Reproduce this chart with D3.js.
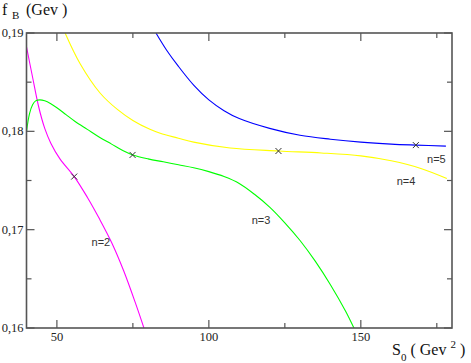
<!DOCTYPE html>
<html>
<head>
<meta charset="utf-8">
<script src="https://cdn.jsdelivr.net/npm/d3@7"></script>
<style>
  body { margin: 0; background: #fff; }
  svg { display: block; }
</style>
</head>
<body>
<div id="chart"></div>
<script>
// curves f_B(S0) for n = 2..5 as [S0, fB]
const n2 = [[40, 0.1886], [42, 0.1855], [44, 0.1825], [46, 0.1803], [48, 0.1788], [51, 0.1772],
            [55.7, 0.1754], [60, 0.1733], [64, 0.1711], [68, 0.1687], [72, 0.1658], [76, 0.1624],
            [79.5, 0.1592]];
const n3 = [[40, 0.1800], [41, 0.1818], [42, 0.1827], [43, 0.1831], [44.4, 0.1832], [46, 0.1831],
            [48, 0.1828], [50, 0.1824], [53, 0.1817], [56, 0.1810], [60, 0.1802], [64, 0.1794],
            [68, 0.1787], [72, 0.1780], [75, 0.1776], [80, 0.1772], [85, 0.1769], [90, 0.1766],
            [95, 0.1763], [100, 0.1759], [105, 0.1754], [110, 0.1747], [115, 0.1736], [120, 0.1723],
            [125, 0.1707], [130, 0.1689], [135, 0.1668], [140, 0.1644], [145, 0.1617], [148.5, 0.1595]];
const n4 = [[52.7, 0.1900], [57.6, 0.1869], [64.2, 0.1839], [70, 0.1822], [75, 0.1811],
            [80.6, 0.1802], [84, 0.1798], [90, 0.1793], [95, 0.1789], [107, 0.1783], [123, 0.1780],
            [137, 0.1778], [150, 0.1775], [160, 0.1770], [170, 0.1762], [178.3, 0.1752]];
const n5 = [[82.6, 0.1900], [86, 0.1883], [90, 0.1866], [95, 0.1847], [100, 0.1832],
            [105, 0.1821], [110, 0.1813], [120, 0.1803], [130, 0.1796], [140, 0.1792],
            [150, 0.1789], [160, 0.1787], [168.1, 0.1786], [178, 0.1785]];

// crosses marked on each curve
const marks = [[55.7, 0.1754], [74.9, 0.1776], [122.9, 0.1780], [168.1, 0.1786]];

// curve labels
const labels = [
    { text: "n=2", s: 61.4, f: 0.1683 },
    { text: "n=3", s: 114.1, f: 0.1706 },
    { text: "n=4", s: 161.8, f: 0.1745 },
    { text: "n=5", s: 171.8, f: 0.1768 }
];

const xMajor = [50, 100, 150];
const xMinor = [75, 125, 175];
const yMajor = [0.16, 0.17, 0.18, 0.19];
const yMinor = [0.165, 0.175, 0.185];

const width = 471, height = 363;
const margin = { top: 33, right: 19, bottom: 35, left: 26.5 };

const svg = d3.select("#chart").append("svg")
    .attr("width", width)
    .attr("height", height);

const x = d3.scaleLinear().domain([40, 180]).range([margin.left, width - margin.right]);
const y = d3.scaleLinear().domain([0.16, 0.19]).range([height - margin.bottom, margin.top]);

svg.append("clipPath").attr("id", "plot")
    .append("rect")
    .attr("x", x(40)).attr("y", y(0.19))
    .attr("width", x(180) - x(40)).attr("height", y(0.16) - y(0.19));

const line = d3.line()
    .x(d => x(d[0]))
    .y(d => y(d[1]))
    .curve(d3.curveCatmullRom.alpha(0.5));

const curves = svg.append("g").attr("clip-path", "url(#plot)");
[[n2, "#ff00ff"], [n3, "#00ff00"], [n4, "#ffff00"], [n5, "#0000ff"]].forEach(([data, color]) => {
    curves.append("path")
        .datum(data)
        .attr("d", line)
        .attr("fill", "none")
        .attr("stroke", color)
        .attr("stroke-width", 1.1);
});

// crosses
svg.append("g").selectAll("path")
    .data(marks)
    .join("path")
    .attr("d", d => {
        const cx = x(d[0]), cy = y(d[1]), r = 3;
        return `M${cx - r},${cy - r}L${cx + r},${cy + r}M${cx + r},${cy - r}L${cx - r},${cy + r}`;
    })
    .attr("stroke", "#333")
    .attr("stroke-width", 1);

// frame and ticks on all four sides, pointing inward
const axisColor = "#555";
const frame = svg.append("g");
frame.append("rect")
    .attr("x", x(40)).attr("y", y(0.19))
    .attr("width", x(180) - x(40)).attr("height", y(0.16) - y(0.19))
    .attr("fill", "none")
    .attr("stroke", axisColor)
    .attr("stroke-width", 1.6);

const xTicks = xMajor.map(v => [v, 8]).concat(xMinor.map(v => [v, 5]));
xTicks.forEach(([v, len]) => {
    frame.append("line")
        .attr("x1", x(v)).attr("x2", x(v))
        .attr("y1", y(0.16)).attr("y2", y(0.16) - len)
        .attr("stroke", axisColor).attr("stroke-width", 1.2);
    frame.append("line")
        .attr("x1", x(v)).attr("x2", x(v))
        .attr("y1", y(0.19)).attr("y2", y(0.19) + len)
        .attr("stroke", axisColor).attr("stroke-width", 1.2);
});
const yTicks = yMajor.map(v => [v, 8]).concat(yMinor.map(v => [v, 5]));
yTicks.forEach(([v, len]) => {
    frame.append("line")
        .attr("x1", x(40)).attr("x2", x(40) + len)
        .attr("y1", y(v)).attr("y2", y(v))
        .attr("stroke", axisColor).attr("stroke-width", 1.2);
    frame.append("line")
        .attr("x1", x(180)).attr("x2", x(180) - len)
        .attr("y1", y(v)).attr("y2", y(v))
        .attr("stroke", axisColor).attr("stroke-width", 1.2);
});

const serif = "'Liberation Serif', 'Times New Roman', serif";

// tick labels
svg.append("g").selectAll("text")
    .data(xMajor)
    .join("text")
    .attr("x", d => x(d))
    .attr("y", y(0.16) + 13)
    .attr("text-anchor", "middle")
    .attr("font-family", serif)
    .attr("font-size", 12.5)
    .attr("fill", "#222")
    .text(d => d);

svg.append("g").selectAll("text")
    .data(yMajor)
    .join("text")
    .attr("x", x(40) - 3)
    .attr("y", d => y(d) + 4)
    .attr("text-anchor", "end")
    .attr("font-family", serif)
    .attr("font-size", 12.5)
    .attr("fill", "#222")
    .text(d => d3.format(".2f")(d).replace(".", ","));

// curve labels
svg.append("g").selectAll("text")
    .data(labels)
    .join("text")
    .attr("x", d => x(d.s))
    .attr("y", d => y(d.f))
    .attr("font-family", "'Liberation Sans', Arial, sans-serif")
    .attr("font-size", 11)
    .attr("fill", "#333")
    .text(d => d.text);

// axis titles
const yTitle = svg.append("text")
    .attr("x", 2).attr("y", 15)
    .attr("font-family", serif)
    .attr("font-size", 16)
    .attr("fill", "#111");
yTitle.append("tspan").text("f");
yTitle.append("tspan").attr("x", 12).attr("dy", 4).attr("font-size", 11).text("B");
yTitle.append("tspan").attr("x", 26).attr("dy", -4).text("(Gev )");

const xTitle = svg.append("text")
    .attr("x", 392).attr("y", 355)
    .attr("font-family", serif)
    .attr("font-size", 16)
    .attr("fill", "#111");
xTitle.append("tspan").text("S");
xTitle.append("tspan").attr("dy", 6).attr("font-size", 11).text("0");
xTitle.append("tspan").attr("dy", -6).text(" ( Gev ");
xTitle.append("tspan").attr("dy", -7).attr("font-size", 11).text("2");
xTitle.append("tspan").attr("dy", 7).text(" )");
</script>
</body>
</html>
